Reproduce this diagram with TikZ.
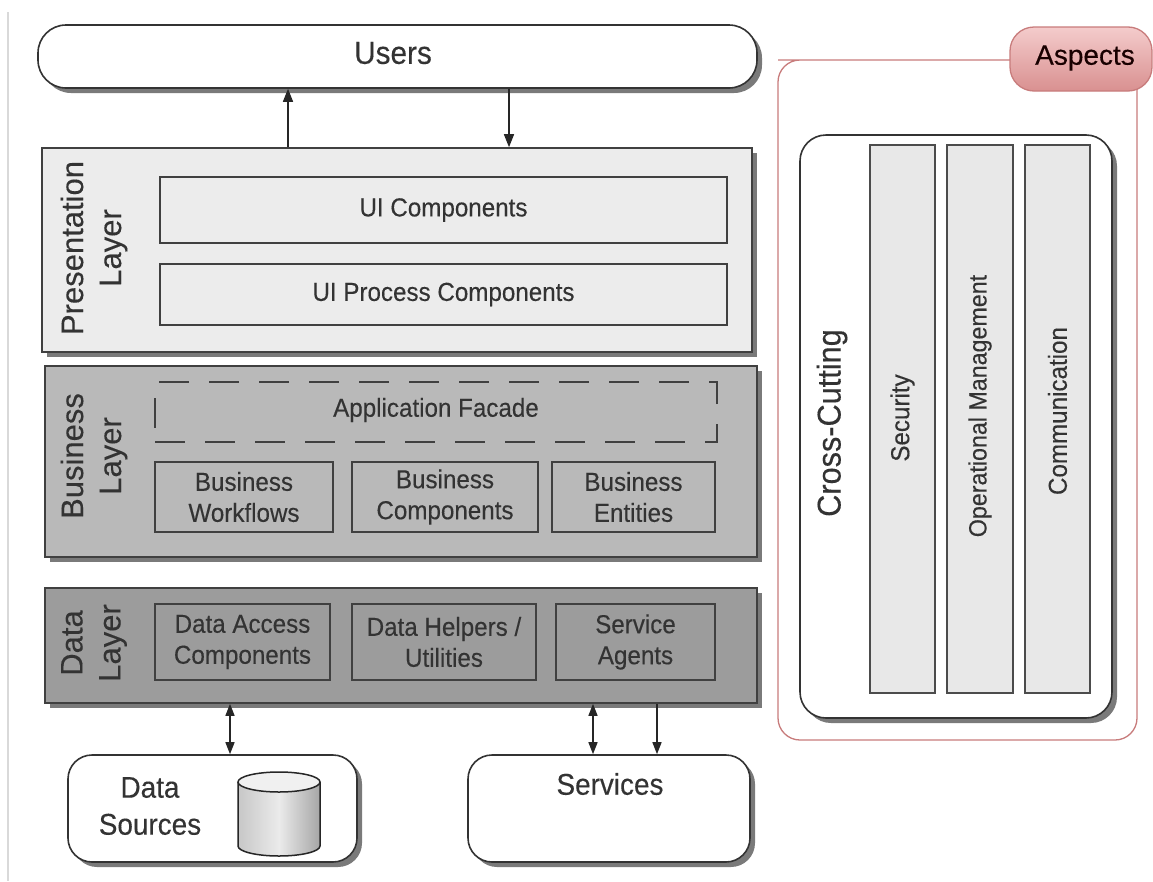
\documentclass[tikz,border=0pt]{standalone}
\usepackage{fontspec}
\setmainfont{Liberation Sans}
\newfontfamily\nf[FakeStretch=0.93,FakeBold=0.25]{Liberation Sans}
\newfontfamily\rf[FakeBold=0.25]{Liberation Sans}
\usetikzlibrary{arrows.meta,shadows}
\definecolor{presfill}{HTML}{ECECEC}
\definecolor{busfill}{HTML}{B9B9B9}
\definecolor{datafill}{HTML}{9C9C9C}
\definecolor{stripfill}{HTML}{E8E8E8}
\definecolor{aspline}{HTML}{C87C7C}
\definecolor{asptop}{HTML}{F4CCCC}
\definecolor{aspbot}{HTML}{D99090}
\definecolor{shadowgray}{HTML}{7A7A7A}
\definecolor{txt}{HTML}{333333}
\tikzset{
  shad/.style={drop shadow={shadow xshift=5pt,shadow yshift=-5pt,fill=shadowgray,opacity=1}},
  layerbox/.style={draw=black!75,line width=1.6pt,shad},
  compbox/.style={draw=black!75,line width=1.6pt,align=center,font=\nf\fontsize{26}{31}\selectfont,text=txt},
  pill/.style={draw=black!80,line width=1.6pt,rounded corners=28pt,fill=white,shad},
  layerlabel/.style={rotate=90,align=center,font=\rf\fontsize{31}{38}\selectfont,text=txt},
  conn/.style={line width=1.4pt,draw=black!85,-{Triangle[length=13pt,width=10pt]}},
  dconn/.style={line width=1.4pt,draw=black!85,{Triangle[length=12pt,width=9pt]}-{Triangle[length=12pt,width=9pt]}},
  strip/.style={draw=black!70,line width=1.6pt,fill=stripfill},
  striplabel/.style={rotate=90,font=\nf\fontsize{26}{28}\selectfont,text=txt}
}
\begin{document}
\begin{tikzpicture}[x=1pt,y=-1pt]
\useasboundingbox (0,0) rectangle (1153,881);
\fill[white] (0,0) rectangle (1153,881);
\draw[black!15,line width=1.5pt] (8,12) -- (8,881);

% Users
\node[pill,minimum width=719pt,minimum height=63pt,inner sep=0pt] (users) at (397.5,56.5) {};
\node[font=\nf\fontsize{32}{34}\selectfont,text=txt] (userst) at (393,53) {Users};

% Presentation layer
\node[layerbox,fill=presfill,minimum width=710pt,minimum height=204pt,inner sep=0pt] (pres) at (397,250) {};
\node[compbox,fill=presfill,minimum width=567pt,minimum height=66pt,inner sep=0pt] (uic) at (443.5,210) {UI Components};
\node[compbox,fill=presfill,minimum width=567pt,minimum height=61pt,inner sep=0pt] (uip) at (443.5,294.5) {UI Process Components};
\node[layerlabel] (presl) at (94,248) {Presentation\\Layer};

% Business layer
\node[layerbox,fill=busfill,minimum width=712pt,minimum height=191pt,inner sep=0pt] (bus) at (401,461.5) {};
\node[draw=black!75,line width=2.6pt,dash pattern=on 30pt off 20pt,minimum width=562pt,minimum height=60pt,inner sep=0pt] (facade) at (436,412) {};
\node[font=\nf\fontsize{26}{31}\selectfont,text=txt] (facadet) at (436,410) {Application Facade};
\node[compbox,minimum width=178pt,minimum height=70pt,inner sep=0pt] (bw) at (244,497) {Business\\Workflows};
\node[compbox,minimum width=186pt,minimum height=70pt,inner sep=0pt] (bc) at (445,497) {Business\\Components};
\node[compbox,minimum width=163pt,minimum height=70pt,inner sep=0pt] (be) at (633.5,497) {Business\\Entities};
\node[layerlabel] (busl) at (94,456) {Business\\Layer};

% Data layer
\node[layerbox,fill=datafill,minimum width=712pt,minimum height=115pt,inner sep=0pt] (data) at (401,645.5) {};
\node[compbox,minimum width=175pt,minimum height=76pt,inner sep=0pt] (dac) at (242.5,642) {Data Access\\Components};
\node[compbox,minimum width=184pt,minimum height=76pt,inner sep=0pt] (dhu) at (444,642) {Data Helpers /\\Utilities};
\node[compbox,minimum width=159pt,minimum height=76pt,inner sep=0pt] (sa) at (635.5,642) {Service\\Agents};
\node[layerlabel] (datal) at (94,643) {Data\\Layer};

% Data Sources
\node[pill,rounded corners=24pt,minimum width=289pt,minimum height=107pt,inner sep=0pt] (ds) at (212.5,808.5) {};
\node[align=center,font=\nf\fontsize{30}{37}\selectfont,text=txt] (dst) at (150,806) {Data\\Sources};
% cylinder
\coordinate (cyl) at (279,782);
\shade[left color=black!22,right color=black!35,middle color=black!8] (238,782) -- (238,846) arc[start angle=180,end angle=360,x radius=41pt,y radius=10pt] -- (320,782) -- cycle;
\draw[black!85,line width=1.5pt] (238,782) -- (238,846) arc[start angle=180,end angle=360,x radius=41pt,y radius=10pt] -- (320,782);
\draw[black!85,line width=1.5pt,fill=black!6] (cyl) ellipse[x radius=41pt,y radius=10pt];

% Services
\node[pill,rounded corners=24pt,minimum width=282pt,minimum height=107pt,inner sep=0pt] (srv) at (609,808.5) {};
\node[font=\nf\fontsize{30}{32}\selectfont,text=txt] (srvt) at (610,784) {Services};

% Connectors
\draw[conn] (pres.north -| 288,0) -- (users.south -| 288,0);
\draw[conn] (users.south -| 509,0) -- (pres.north -| 509,0);
\draw[dconn] (data.south -| 230,0) -- (ds.north -| 230,0);
\draw[dconn] (data.south -| 593,0) -- (srv.north -| 593,0);
\draw[conn,-{Triangle[length=12pt,width=9pt]}] (data.south -| 657,0) -- (srv.north -| 657,0);

% Aspects
\draw[aspline,line width=1.3pt,rounded corners=22pt] (1060,60) -- (800,60) -- (778,60) -- (778,740) -- (1137,740) -- (1137,80);
\node[draw=aspline,line width=1.3pt,rounded corners=24pt,top color=asptop,bottom color=aspbot,minimum width=142pt,minimum height=64pt,inner sep=0pt] (asp) at (1081,59) {};
\node[font=\rf\fontsize{28}{30}\selectfont,text=black!75!red!40!black] (aspt) at (1085,58) {Aspects};

% Cross-cutting
\node[pill,rounded corners=26pt,minimum width=312pt,minimum height=583pt,inner sep=0pt] (cc) at (956,426.5) {};
\node[rotate=90,font=\nf\fontsize{33}{35}\selectfont,text=txt] (cct) at (832,423) {Cross-Cutting};
\node[strip,minimum width=65pt,minimum height=548pt,inner sep=0pt] (sec) at (902.5,419) {};
\node[striplabel] (sect) at (902.5,418) {Security};
\node[strip,minimum width=66pt,minimum height=548pt,inner sep=0pt] (op) at (980,419) {};
\node[striplabel,font=\nf\fontsize{25}{28}\selectfont] (opt) at (980,406) {Operational Management};
\node[strip,minimum width=65pt,minimum height=548pt,inner sep=0pt] (com) at (1057.5,419) {};
\node[striplabel] (comt) at (1057.5,411) {Communication};
\end{tikzpicture}
\end{document}
